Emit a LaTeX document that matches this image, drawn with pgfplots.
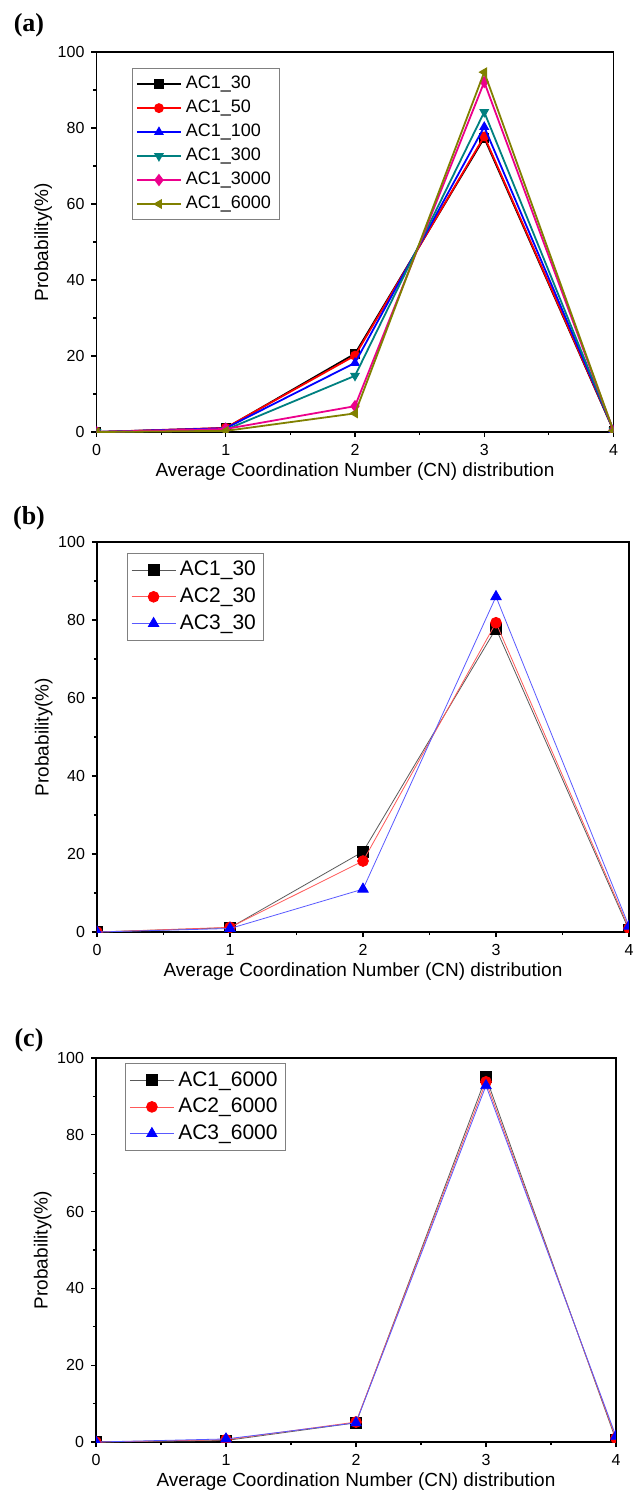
\documentclass[border=0pt]{standalone}
\usepackage{fontspec}
\setmainfont{Liberation Sans}
\newfontfamily\timesfont{Liberation Serif}
\usepackage{pgfplots}
\pgfplotsset{compat=1.18}

\definecolor{cnteal}{RGB}{0,128,128}
\definecolor{cnolive}{RGB}{128,128,0}

\pgfplotsset{
  cnaxis/.style={
    scale only axis,
    anchor=south west,
    xmin=0, xmax=4, ymin=0, ymax=100,
    clip marker paths=true,
    xtick={0,1,2,3,4}, ytick={0,20,40,60,80,100},
    minor x tick num=1, minor y tick num=1,
    tick align=outside,
    xtick pos=bottom, ytick pos=left,
    major tick length=2.5pt, minor tick length=1.6pt,
    axis line style={line width=0.8pt},
    every tick/.style={line width=0.6pt, black},
    ticklabel style={font=\fontsize{8}{9}\selectfont},
    /pgf/number format/assume math mode=true,
    xlabel={Average Coordination Number (CN) distribution},
    ylabel={Probability(\%)},
    label style={font=\fontsize{9.5}{11}\selectfont},
    xlabel style={yshift=3pt},
    ylabel style={yshift=-4pt},
    legend cell align=left,
    legend image code/.code={
      \draw[mark repeat=2,mark phase=2] plot coordinates {(0pt,0pt) (11pt,0pt) (22pt,0pt)};
    },
  },
}

\begin{document}
\begin{tikzpicture}
\path[use as bounding box] (0,0) rectangle (317.5pt,-750.5pt);

% ---------------- (a)
\node[font=\timesfont\bfseries\fontsize{13}{13}\selectfont] at (14.5pt,-12.5pt) {(a)};
\begin{axis}[cnaxis,
  at={(48.25pt,-216pt)}, width=258.5pt, height=190pt,
  every axis plot/.append style={line width=0.9pt, mark size=2pt},
  legend style={at={(0.068,0.958)}, anchor=north west, draw=gray,
    font=\fontsize{9}{10}\selectfont, row sep=0.2pt, inner sep=2pt}]
\addplot[black, mark=square*] coordinates {(0,0) (1,1) (2,20.6) (3,77.4) (4,0.4)};
\addplot[red, mark=*] coordinates {(0,0) (1,1.1) (2,20.1) (3,77.8) (4,0.5)};
\addplot[blue, mark=triangle*] coordinates {(0,0) (1,1) (2,18.2) (3,80.3) (4,0.5)};
\addplot[cnteal, mark=triangle*, mark options={rotate=180}] coordinates {(0,0) (1,0.6) (2,14.8) (3,84.2) (4,0.4)};
\addplot[magenta, mark=diamond*, mark size=2.4pt] coordinates {(0,0) (1,0.8) (2,6.8) (3,92.1) (4,0.3)};
\addplot[cnolive, mark=triangle*, mark options={rotate=90}] coordinates {(0,0) (1,0.3) (2,4.9) (3,94.7) (4,0.3)};
\legend{AC1\_30,AC1\_50,AC1\_100,AC1\_300,AC1\_3000,AC1\_6000}
\end{axis}

% ---------------- (b)
\node[font=\timesfont\bfseries\fontsize{13}{13}\selectfont] at (14.5pt,-259pt) {(b)};
\begin{axis}[cnaxis,
  at={(48.5pt,-466pt)}, width=266pt, height=195pt,
  every axis plot/.append style={line width=0.4pt, mark size=2.7pt},
  legend style={at={(0.056,0.972)}, anchor=north west, draw=gray,
    font=\fontsize{10.5}{12}\selectfont, row sep=0.5pt, inner sep=2pt}]
\addplot[black!65, mark=square*, mark options={black}] coordinates {(0,0) (1,1.1) (2,20.6) (3,77.8) (4,0.5)};
\addplot[red!65, mark=*, mark options={red}] coordinates {(0,0) (1,1.2) (2,18.2) (3,79.3) (4,1)};
\addplot[blue!65, mark=triangle*, mark options={blue}, mark size=3pt] coordinates {(0,0) (1,0.9) (2,11.0) (3,86.0) (4,1.5)};
\legend{AC1\_30,AC2\_30,AC3\_30}
\end{axis}

% ---------------- (c)
\node[font=\timesfont\bfseries\fontsize{13}{13}\selectfont] at (14.5pt,-520pt) {(c)};
\begin{axis}[cnaxis,
  at={(48pt,-721pt)}, width=260pt, height=192pt,
  every axis plot/.append style={line width=0.4pt, mark size=2.7pt},
  legend style={at={(0.056,0.987)}, anchor=north west, draw=gray,
    font=\fontsize{10.5}{12}\selectfont, row sep=0.5pt, inner sep=2pt}]
\addplot[black!65, mark=square*, mark options={black}] coordinates {(0,0) (1,0.4) (2,5.0) (3,95.0) (4,0.5)};
\addplot[red!65, mark=*, mark options={red}] coordinates {(0,0) (1,0.6) (2,5.2) (3,93.8) (4,1)};
\addplot[blue!65, mark=triangle*, mark options={blue}, mark size=3pt] coordinates {(0,0) (1,0.8) (2,5.0) (3,92.8) (4,1.5)};
\legend{AC1\_6000,AC2\_6000,AC3\_6000}
\end{axis}
\end{tikzpicture}
\end{document}
